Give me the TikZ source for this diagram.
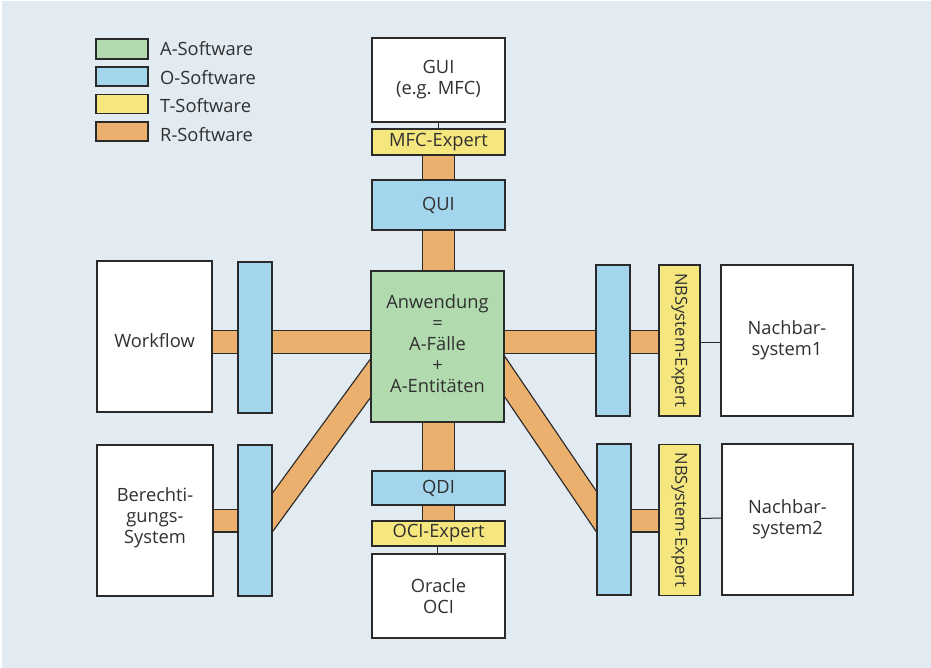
\documentclass[tikz,border=0pt]{standalone}
\usepackage{fontspec}
\setmainfont{Open Sans}
\usetikzlibrary{calc,backgrounds}

\definecolor{bgc}{HTML}{E2EBF2}
\definecolor{aSw}{HTML}{B1DBAE}
\definecolor{oSw}{HTML}{A3D5EC}
\definecolor{tSw}{HTML}{F6E67E}
\definecolor{rSw}{HTML}{EBAF6E}
\definecolor{linec}{HTML}{2A2A2A}
\definecolor{txt}{HTML}{303030}

\newcommand{\shiftlines}[2]{\raisebox{#1}[\height][\depth]{\begin{tabular}{@{}c@{}}#2\end{tabular}}}

\tikzset{
  basebox/.style={draw=linec, line width=1.3pt, inner sep=0pt, align=center,
    text=txt, font=\fontsize{18.3}{21}\selectfont},
  whitebox/.style={basebox, fill=white},
  abox/.style={basebox, fill=aSw},
  obox/.style={basebox, fill=oSw},
  tbox/.style={basebox, fill=tSw},
  rbox/.style={basebox, fill=rSw},
  vtext/.style={font=\fontsize{16.6}{20}\selectfont, rotate=-90},
  sz/.style 2 args={minimum width=#1pt, minimum height=#2pt},
  legtext/.style={anchor=west, inner sep=0pt, text=txt,
    font=\fontsize{18.3}{21}\selectfont},
  hband/.style={draw=linec, line width=1.3pt, double=rSw, double distance=21.4pt},
  vband/.style={draw=linec, line width=1.3pt, double=rSw, double distance=30.4pt},
  thin/.style={draw=linec, line width=1pt},
}

\begin{document}
\begin{tikzpicture}[x=1pt, y=-1pt]
  % canvas
  \begin{scope}[on background layer]
    \fill[white] (0,0) rectangle (931,668);
    \fill[bgc] (1.5,1.5) rectangle (931,668);
  \end{scope}
  \useasboundingbox (0,0) rectangle (931,668);

  % legend
  \node[abox, sz={52}{20}] (la) at (122,49) {};
  \node[obox, sz={52}{19}] (lo) at (122,76.5) {};
  \node[tbox, sz={52}{19}] (lt) at (122,104) {};
  \node[rbox, sz={52}{19}] (lr) at (122,131.5) {};
  \node[legtext] (tla) at (160,49) {A-Software};
  \node[legtext] (tlo) at (160,77.5) {O-Software};
  \node[legtext] (tlt) at (160,106) {T-Software};
  \node[legtext] (tlr) at (160,135) {R-Software};

  % central column
  \node[whitebox, sz={133}{84}] (gui) at (438.5,80) {GUI\\(e.g. MFC)};
  \node[tbox, sz={133}{26}] (mfc) at (438.5,142) {MFC-Expert};
  \node[obox, sz={133}{50}] (qui) at (438.5,205) {QUI};
  \node[abox, sz={133}{151}] (anw) at (437.5,346.5)
    {\shiftlines{0.5pt}{\renewcommand{\arraystretch}{1.02}Anwendung\\=\\A-Fälle\\+\\A-Entitäten}};
  \node[obox, sz={133}{34}] (qdi) at (438.5,488) {QDI};
  \node[tbox, sz={133}{25}] (oci) at (438.5,533.5) {OCI-Expert};
  \node[whitebox, sz={133}{84}] (ora) at (438.5,596) {Oracle\\OCI};

  % left side
  \node[whitebox, sz={115}{151}] (wf) at (154.5,336.5) {\shiftlines{-7pt}{Workflow}};
  \node[obox, sz={34}{151}] (lb1) at (255,337.5) {};
  \node[whitebox, sz={116}{151}] (ber) at (155,520.5)
    {\shiftlines{2.5pt}{Berechti-\\gungs-\\System}};
  \node[obox, sz={34}{151}] (lb2) at (255,520.5) {};

  % right side
  \node[obox, sz={34}{151}] (rb1) at (613,340.5) {};
  \node[tbox, vtext, sz={151}{41}] (ry1) at (679.5,340.5) {NBSystem-Expert};
  \node[whitebox, sz={132}{151}] (nb1) at (787,340.5) {Nachbar-\\system1};
  \node[obox, sz={34}{151}] (rb2) at (614,519.5) {};
  \node[tbox, vtext, sz={151}{41}] (ry2) at (679.5,520) {NBSystem-Expert};
  \node[whitebox, sz={131}{151}] (nb2) at (787.5,519.5) {Nachbar-\\system2};

  % R-software links, drawn beneath the boxes
  \begin{scope}[on background layer]
    \draw[vband] (mfc.center) -- (mfc.center |- anw.center);
    \draw[vband] (qdi.center |- anw.center) -- (oci.center);
    \draw[hband] ($(wf.center)+(0,5.5)$) -- ($(anw.center)+(0,-4.5)$);
    \draw[hband] ($(anw.center)+(0,-4.5)$) -- ($(ry1.center)+(0,1.5)$);
    \draw[hband] (ber.center) -- (lb2.center);
    \draw[hband] ($(rb2.center)+(0,1)$) -- ($(ry2.center)+(0,0.5)$);
    \draw[hband] ($(lb2.center)+(0,15.8)$) -- ($(anw.center)+(-32.5,-15.5)$);
    \draw[hband] ($(rb2.center)+(0,18)$) -- ($(anw.center)+(32.5,-21)$);
  \end{scope}

  % plain connections
  \draw[thin] (gui.south) -- (mfc.north);
  \draw[thin] ($(oci.south)+(-1.5,0)$) -- ($(ora.north)+(-1.5,0)$);
  \draw[thin] ($(ry1.north)+(0,1.5)$) -- ($(nb1.west)+(0,1.5)$);
  \draw[thin] ($(ry2.north)+(0,-1.5)$) -- ($(nb2.west)+(0,-1.5)$);
\end{tikzpicture}
\end{document}
